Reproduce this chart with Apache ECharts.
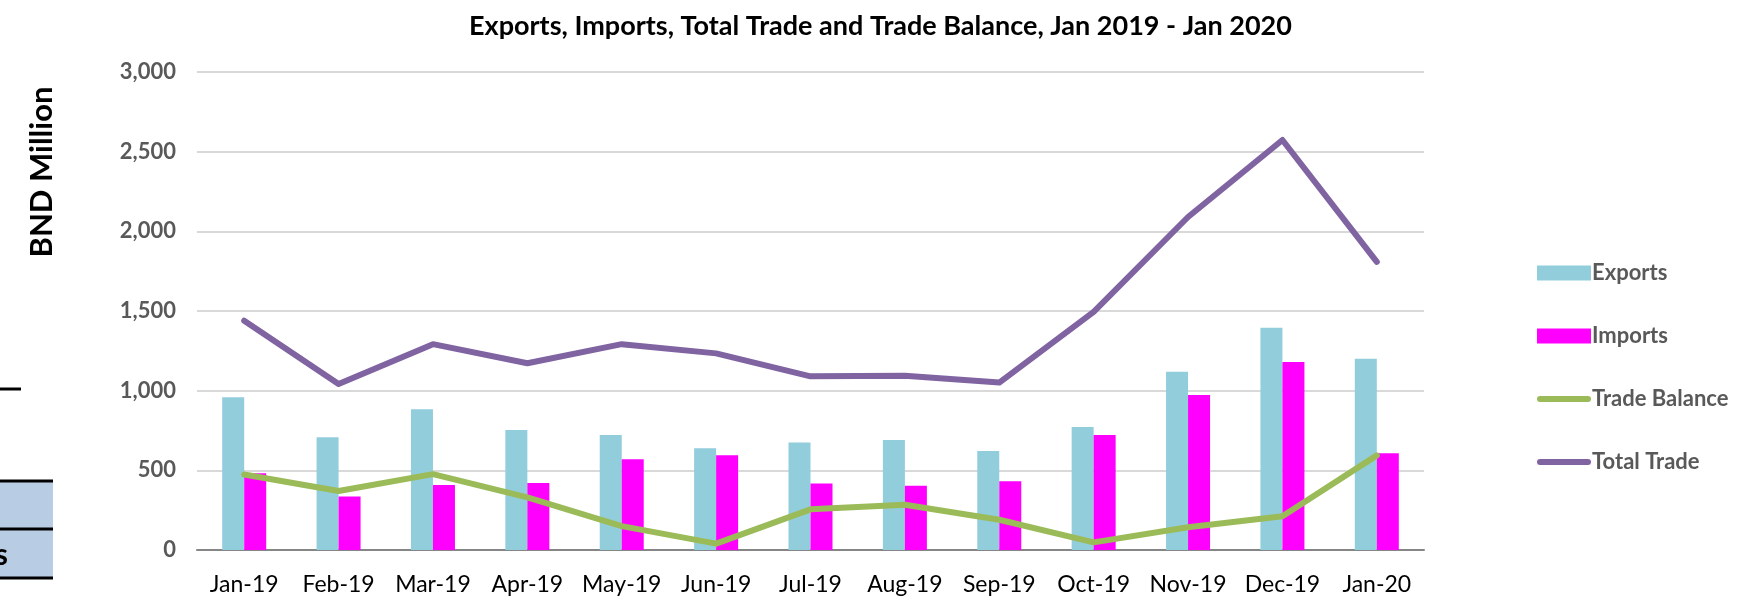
<!DOCTYPE html>
<html>
<head>
<meta charset="utf-8">
<script src="https://cdn.jsdelivr.net/npm/echarts@6/dist/echarts.min.js"></script>
<style>
html,body{margin:0;padding:0;background:#fff;}
#chart{width:1761px;height:599px;}
</style>
</head>
<body>
<div id="chart"></div>
<script>
const categories = ['Jan-19','Feb-19','Mar-19','Apr-19','May-19','Jun-19','Jul-19','Aug-19','Sep-19','Oct-19','Nov-19','Dec-19','Jan-20'];
const exportsData = [958, 708, 884, 753, 722, 638, 674, 690, 621, 772, 1119, 1395, 1201];
const importsData = [481, 335, 408, 420, 569, 594, 418, 404, 431, 722, 973, 1180, 607];
const tradeBalance = [474, 370, 476, 330, 150, 40, 255, 284, 190, 48, 143, 212, 594];
const totalTrade = [1439, 1042, 1292, 1172, 1292, 1234, 1090, 1093, 1051, 1494, 2090, 2573, 1808];
const yTicks = [0, 500, 1000, 1500, 2000, 2500, 3000];

const FONT = 'Lato';
const LINE_ICON = 'path://M3,0 L51,0 A3,3 0 0 1 51,6 L3,6 A3,3 0 0 1 3,0 Z';
const chart = echarts.init(document.getElementById('chart'), null, {renderer: 'canvas'});
chart.setOption({
  backgroundColor: '#ffffff',
  animation: false,
  title: {
    text: 'Exports, Imports, Total Trade and Trade Balance, Jan 2019 - Jan 2020',
    left: 'center',
    top: 8,
    textStyle: {fontFamily: FONT, fontWeight: 'bold', fontSize: 27, color: '#000000'}
  },
  legend: {
    orient: 'vertical',
    left: 1532,
    top: 257,
    itemWidth: 54,
    itemHeight: 15,
    itemGap: 41,
    textStyle: {fontFamily: FONT, fontWeight: 'bold', fontSize: 22, color: '#595959', padding: [0,0,0,-4]},
    data: [
      {name: 'Exports', icon: 'rect'},
      {name: 'Imports', icon: 'rect'},
      {name: 'Trade Balance', icon: LINE_ICON},
      {name: 'Total Trade', icon: LINE_ICON}
    ]
  },
  grid: {left: 197, right: 337, top: 72, bottom: 49, containLabel: false},
  xAxis: {
    type: 'category',
    data: categories,
    axisTick: {show: false},
    axisLine: {lineStyle: {color: '#868686', width: 2}},
    axisLabel: {fontFamily: FONT, fontSize: 23, color: '#000000', margin: 23, interval: 0}
  },
  yAxis: {
    type: 'value',
    min: yTicks[0],
    max: yTicks[yTicks.length - 1],
    interval: yTicks[1] - yTicks[0],
    axisLine: {show: false},
    axisTick: {show: false},
    splitLine: {lineStyle: {color: '#D9D9D9', width: 2}},
    axisLabel: {
      fontFamily: FONT, fontWeight: 'bold', fontSize: 22, color: '#595959', margin: 21,
      formatter: v => v.toLocaleString('en-US')
    }
  },
  series: [
    {name: 'Exports', type: 'bar', data: exportsData, barWidth: 22, barGap: '0%',
     itemStyle: {color: '#92CDDC'}},
    {name: 'Imports', type: 'bar', data: importsData, barWidth: 22, barGap: '0%',
     itemStyle: {color: '#FF00FF'}},
    {name: 'Trade Balance', type: 'line', data: tradeBalance, symbol: 'none',
     lineStyle: {color: '#9BBB59', width: 6, cap: 'round', join: 'round'},
     itemStyle: {color: '#9BBB59'}},
    {name: 'Total Trade', type: 'line', data: totalTrade, symbol: 'none',
     lineStyle: {color: '#8064A2', width: 6, cap: 'round', join: 'round'},
     itemStyle: {color: '#8064A2'}}
  ],
  graphic: [
    {type: 'text', x: 42, y: 172, rotation: Math.PI / 2,
     style: {text: 'BND Million', align: 'center', verticalAlign: 'middle',
       font: 'bold 31px Lato', fill: '#000'}},
    {type: 'line', shape: {x1: 0, y1: 389, x2: 21, y2: 389}, style: {stroke: '#000', lineWidth: 3}},
    {type: 'rect', shape: {x: 0, y: 481, width: 53, height: 97}, style: {fill: '#B8CCE4'}},
    {type: 'line', shape: {x1: 0, y1: 481, x2: 53, y2: 481}, style: {stroke: '#000', lineWidth: 3}},
    {type: 'line', shape: {x1: 0, y1: 529, x2: 53, y2: 529}, style: {stroke: '#000', lineWidth: 3}},
    {type: 'line', shape: {x1: 0, y1: 578, x2: 53, y2: 578}, style: {stroke: '#000', lineWidth: 3}},
    {type: 'text', x: 8, y: 555, style: {text: 's', align: 'right', verticalAlign: 'middle',
      font: 'bold 30px Lato', fill: '#000'}}
  ]
});
</script>
</body>
</html>
